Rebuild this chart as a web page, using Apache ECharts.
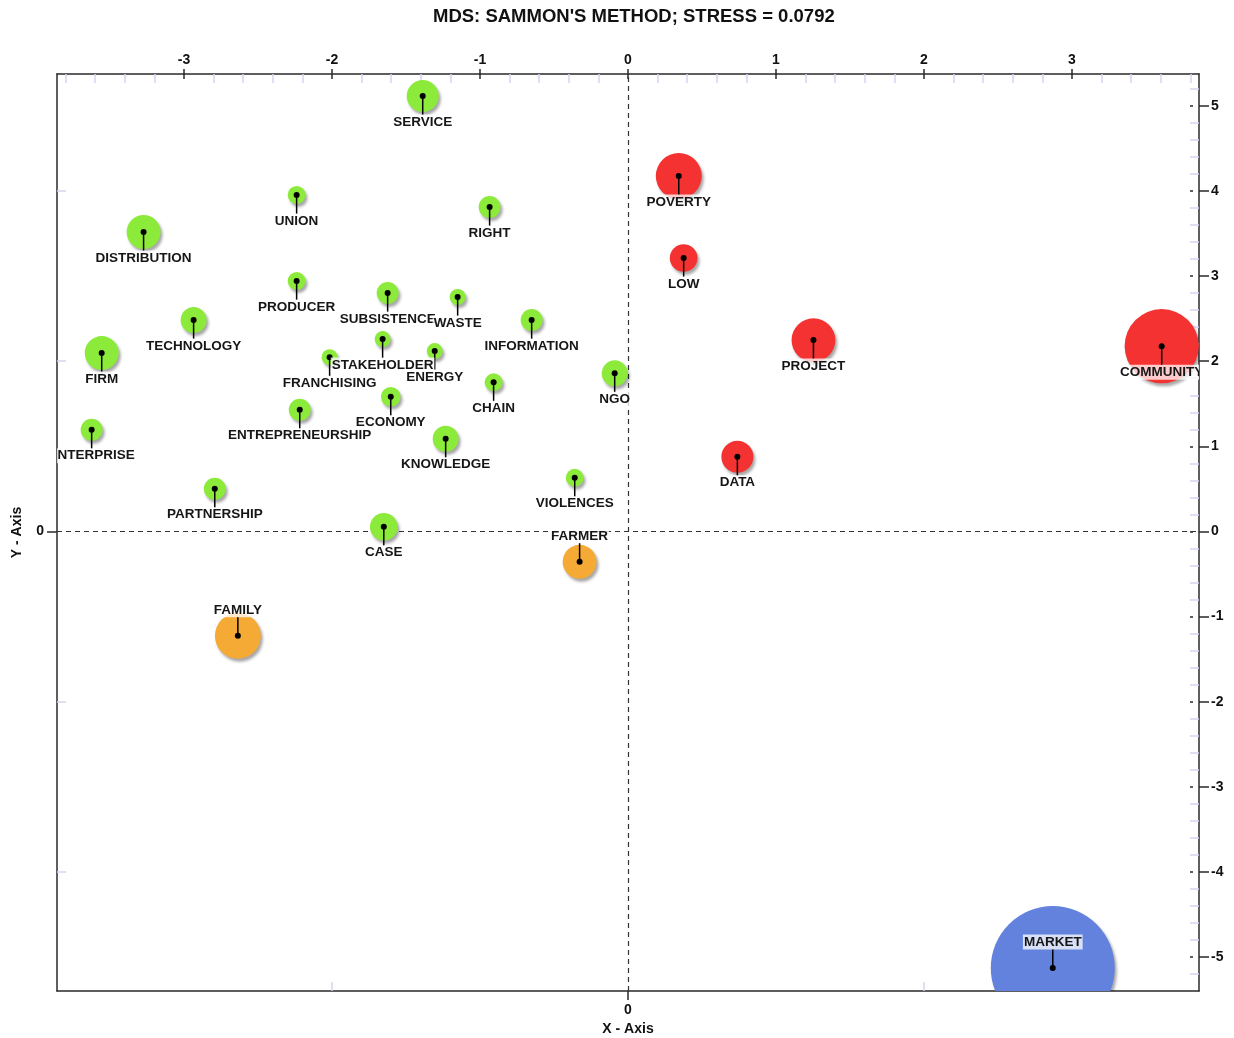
<!DOCTYPE html>
<html>
<head>
<meta charset="utf-8">
<script src="https://cdn.jsdelivr.net/npm/echarts@6/dist/echarts.min.js"></script>
<style>
  html, body { margin: 0; padding: 0; background: #ffffff; }
  #chart { width: 1234px; height: 1038px; }
</style>
</head>
<body>
<div id="chart"></div>
<script>
// MDS configuration (Sammon's mapping) of the terms
const terms = ['SERVICE', 'UNION', 'RIGHT', 'DISTRIBUTION', 'POVERTY', 'LOW', 'PRODUCER',
  'SUBSISTENCE', 'WASTE', 'TECHNOLOGY', 'INFORMATION', 'FIRM', 'FRANCHISING', 'STAKEHOLDER',
  'ENERGY', 'PROJECT', 'COMMUNITY', 'CHAIN', 'NGO', 'ECONOMY', 'ENTREPRENEURSHIP', 'ENTERPRISE',
  'KNOWLEDGE', 'DATA', 'VIOLENCES', 'PARTNERSHIP', 'CASE', 'FARMER', 'FAMILY', 'MARKET'];
const dim1 = [-1.387, -2.239, -0.935, -3.273, 0.343, 0.376, -2.239,
  -1.624, -1.151, -2.935, -0.651, -3.556, -2.016, -1.658,
  -1.306, 1.253, 3.606, -0.908, -0.090, -1.603, -2.218, -3.624,
  -1.232, 0.739, -0.360, -2.792, -1.650, -0.327, -2.636, 2.870];
const dim2 = [5.117, 3.954, 3.813, 3.519, 4.177, 3.213, 2.943,
  2.802, 2.755, 2.484, 2.484, 2.096, 2.048, 2.260,
  2.119, 2.248, 2.177, 1.753, 1.858, 1.583, 1.430, 1.195,
  1.089, 0.878, 0.631, 0.502, 0.055, -0.357, -1.227, -5.130];
// relative term weight (bubble area)
const weights = [16, 5, 7.5, 18, 33, 12, 5,
  7.5, 4, 10.5, 7.5, 18, 4, 4,
  4, 30, 86, 5, 10.5, 6, 7.5, 7.5,
  10.5, 16, 5, 7.5, 12, 18, 33, 240];
// cluster membership
const clusters = [0, 0, 0, 0, 1, 1, 0,
  0, 0, 0, 0, 0, 0, 0,
  0, 1, 1, 0, 0, 0, 0, 0,
  0, 1, 0, 0, 0, 2, 2, 3];
const title = "MDS: SAMMON'S METHOD; STRESS = 0.0792";
const xLabels = [-3, -2, -1, 0, 1, 2, 3];
const yLabels = [-5, -4, -3, -2, -1, 0, 1, 2, 3, 4, 5];
const xEven = [-2, 2];
const yEven = [-4, -2, 2, 4];

// presentation
const clusterColors = ['#8CEB3A', '#F53232', '#F5AA35', '#6382DE'];
const labelsAbove = ['FARMER', 'FAMILY', 'MARKET'];
const X_MIN = -3.858, X_MAX = 3.858, Y_MIN = -5.4, Y_MAX = 5.375;

function minorSteps(lo, hi) {
  const out = [];
  for (let k = Math.ceil(lo * 5); k <= Math.floor(hi * 5); k++) {
    if (k % 5 !== 0) out.push(k / 5);
  }
  return out;
}
const xMinor = minorSteps(X_MIN + 0.01, X_MAX - 0.01);
const yMinor = minorSteps(Y_MIN + 0.01, Y_MAX - 0.01);

const FONT = '"Liberation Sans", Arial, sans-serif';
const dark = '#2a2a2a';
const lavender = '#d4d4f2';
const tickFont = { fontFamily: FONT, fontWeight: 'bold', fontSize: 14, color: '#111' };
const nameFont = { fontFamily: FONT, fontWeight: 'bold', fontSize: 14, color: '#111' };

function baseAxis(extra) {
  return Object.assign({
    type: 'value',
    splitLine: { show: false },
    axisLine: { show: false, onZero: false },
    axisTick: { show: false },
    axisLabel: { show: false }
  }, extra);
}

const xAxes = [
  baseAxis({ position: 'top', min: X_MIN, max: X_MAX,
    axisLine: { show: true, onZero: false, lineStyle: { color: dark, width: 1.5 } },
    axisTick: { show: true, customValues: xLabels, length: 5, lineStyle: { color: dark, width: 1.5 } },
    axisLabel: Object.assign({ show: true, customValues: xLabels, margin: 7 }, tickFont) }),
  baseAxis({ position: 'top', min: X_MIN, max: X_MAX,
    axisTick: { show: true, inside: true, customValues: xLabels, length: 5, lineStyle: { color: dark, width: 1.5 } } }),
  baseAxis({ position: 'top', min: X_MIN, max: X_MAX,
    axisTick: { show: true, inside: true, customValues: xMinor, length: 9, lineStyle: { color: lavender, width: 1.5 } } }),
  baseAxis({ position: 'bottom', min: X_MIN, max: X_MAX,
    name: 'X - Axis', nameLocation: 'middle', nameGap: 31, nameTextStyle: nameFont,
    axisLine: { show: true, onZero: false, lineStyle: { color: dark, width: 1.5 } },
    axisTick: { show: true, customValues: [0], length: 9, lineStyle: { color: dark, width: 1.5 } },
    axisLabel: Object.assign({ show: true, customValues: [0], margin: 12 }, tickFont) }),
  baseAxis({ position: 'bottom', min: X_MIN, max: X_MAX,
    axisTick: { show: true, inside: true, customValues: xEven, length: 9, lineStyle: { color: lavender, width: 1.5 } } })
];

const yAxes = [
  baseAxis({ position: 'right', min: Y_MIN, max: Y_MAX,
    axisLine: { show: true, onZero: false, lineStyle: { color: dark, width: 1.5 } },
    axisTick: { show: true, customValues: yLabels, length: 10, lineStyle: { color: dark, width: 1.5 } },
    axisLabel: Object.assign({ show: true, customValues: yLabels, margin: 12 }, tickFont) }),
  baseAxis({ position: 'right', offset: -6, min: Y_MIN, max: Y_MAX,
    axisTick: { show: true, inside: true, customValues: yLabels, length: 3, lineStyle: { color: dark, width: 1.5 } } }),
  baseAxis({ position: 'right', min: Y_MIN, max: Y_MAX,
    axisTick: { show: true, inside: true, customValues: yMinor, length: 9, lineStyle: { color: lavender, width: 1.5 } } }),
  baseAxis({ position: 'left', min: Y_MIN, max: Y_MAX,
    name: 'Y - Axis', nameLocation: 'middle', nameGap: 33, nameRotate: 90, nameTextStyle: nameFont,
    axisLine: { show: true, onZero: false, lineStyle: { color: dark, width: 1.5 } },
    axisTick: { show: true, customValues: [0], length: 10, lineStyle: { color: dark, width: 1.5 } },
    axisLabel: Object.assign({ show: true, customValues: [0], margin: 13 }, tickFont) }),
  baseAxis({ position: 'left', min: Y_MIN, max: Y_MAX,
    axisTick: { show: true, inside: true, customValues: yEven, length: 9, lineStyle: { color: lavender, width: 1.5 } } })
];

const points = terms.map((t, i) => [dim1[i], dim2[i], weights[i], clusters[i], i]);

function renderBubble(params, api) {
  const idx = api.value(4);
  const term = terms[idx];
  const c = api.coord([api.value(0), api.value(1)]);
  const r = 4 * Math.sqrt(api.value(2));
  const dir = labelsAbove.indexOf(term) >= 0 ? -1 : 1;
  return {
    type: 'group',
    children: [
      { type: 'circle', z2: 0, shape: { cx: c[0], cy: c[1], r: r },
        style: { fill: clusterColors[api.value(3)], shadowBlur: 3, shadowColor: 'rgba(0,0,0,0.35)',
          shadowOffsetX: 2, shadowOffsetY: 3 } },
      { type: 'line', z2: 1, shape: { x1: c[0], y1: c[1], x2: c[0], y2: c[1] + dir * 19 },
        style: { stroke: '#000', lineWidth: 1.5 } },
      { type: 'circle', z2: 1, shape: { cx: c[0], cy: c[1], r: 3 }, style: { fill: '#000' } },
      { type: 'text', z2: 2, x: c[0], y: c[1] + dir * 26,
        style: { text: term, fill: '#161616', align: 'center', verticalAlign: 'middle',
          font: 'bold 13.5px ' + FONT,
          backgroundColor: 'rgba(255,255,255,0.75)', padding: [1, 1, 0, 1] } }
    ]
  };
}

const chart = echarts.init(document.getElementById('chart'), null, { renderer: 'canvas' });
chart.setOption({
  backgroundColor: '#ffffff',
  animation: false,
  title: {
    text: title, left: 428, top: 2,
    textStyle: { fontFamily: FONT, fontWeight: 'bold', fontSize: 18.5, color: '#111' }
  },
  grid: { left: 57, right: 35, top: 74, bottom: 47, containLabel: false, outerBoundsMode: 'none' },
  xAxis: xAxes,
  yAxis: yAxes,
  series: [
    {
      type: 'line', data: [], xAxisIndex: 0, yAxisIndex: 0, z: 1,
      markLine: {
        silent: true, symbol: 'none', z: 1, animation: false,
        label: { show: false },
        lineStyle: { type: [5, 4], color: '#333', width: 1.2 },
        data: [{ xAxis: 0 }, { yAxis: 0 }]
      }
    },
    {
      type: 'custom', xAxisIndex: 0, yAxisIndex: 0, z: 3, clip: true,
      renderItem: renderBubble,
      data: points
    }
  ]
});
</script>
</body>
</html>
